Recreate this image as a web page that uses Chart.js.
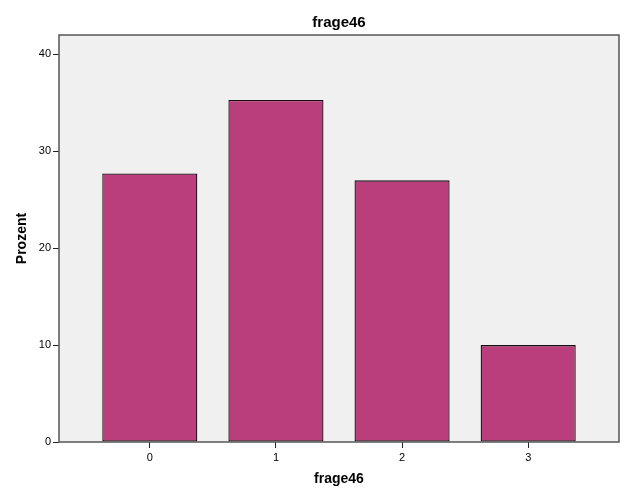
<!DOCTYPE html>
<html lang="de">
<head>
  <meta charset="UTF-8" />
  <title>frage46</title>
  <script src="https://cdn.jsdelivr.net/npm/chart.js"></script>
  <style>
    html, body { margin: 0; padding: 0; background: #fff; }
    #wrap { width: 626px; height: 501px; }
  </style>
</head>
<body>
  <div id="wrap"><canvas id="chart"></canvas></div>
  <script>
    // Antwortkategorien und Prozentwerte
    const categories = [0, 1, 2, 3];
    const percents = [27.7, 35.3, 27.0, 10.0];
    const yTicks = [0, 10, 20, 30, 40];

    // grauer Hintergrund + Rahmen des Plotbereichs
    const plotFrame = {
      id: 'plotFrame',
      beforeDatasetsDraw(chart) {
        const { ctx, chartArea: a } = chart;
        ctx.save();
        ctx.fillStyle = '#f0f0f0';
        ctx.fillRect(a.left, a.top, a.right - a.left, a.bottom - a.top);
        ctx.restore();
      },
      afterDatasetsDraw(chart) {
        const { ctx, chartArea: a } = chart;
        ctx.save();
        ctx.strokeStyle = '#555';
        ctx.lineWidth = 1.5;
        ctx.strokeRect(a.left, a.top, a.right - a.left, a.bottom - a.top);
        ctx.restore();
      }
    };

    new Chart(document.getElementById('chart'), {
      type: 'bar',
      data: {
        datasets: [{
          data: categories.map((c, i) => ({ x: c, y: percents[i] })),
          backgroundColor: '#b93e7b',
          borderColor: '#1a0a12',
          borderWidth: 1.3,
          borderSkipped: false,
          barPercentage: 0.754,
          categoryPercentage: 1
        }]
      },
      options: {
        responsive: true,
        maintainAspectRatio: false,
        animation: false,
        layout: { padding: { left: 0, right: 7, top: 0, bottom: 0 } },
        plugins: {
          legend: { display: false },
          tooltip: { enabled: false },
          title: {
            display: true,
            text: 'frage46',
            fullSize: false,
            color: '#000',
            font: { family: 'Liberation Sans, Arial, sans-serif', size: 15, weight: 'bold' },
            padding: { top: 14, bottom: 3 }
          }
        },
        scales: {
          x: {
            type: 'linear',
            min: -0.72,
            max: 3.72,
            offset: false,
            afterBuildTicks: s => { s.ticks = categories.map(v => ({ value: v })); },
            afterFit: s => { s.height = 59; },
            grid: { offset: false, drawOnChartArea: false, drawTicks: true, tickLength: 6, color: '#222', lineWidth: 1 },
            border: { display: false },
            ticks: {
              color: '#000',
              padding: 3,
              font: { family: 'Liberation Sans, Arial, sans-serif', size: 11 }
            },
            title: {
              display: true,
              text: 'frage46',
              color: '#000',
              font: { family: 'Liberation Sans, Arial, sans-serif', size: 14, weight: 'bold' },
              padding: { top: 0, bottom: 13.6 }
            }
          },
          y: {
            min: 0,
            max: 42,
            afterBuildTicks: s => { s.ticks = yTicks.map(v => ({ value: v })); },
            afterFit: s => { s.width = 59; },
            grid: { drawOnChartArea: false, drawTicks: true, tickLength: 6, color: '#222', lineWidth: 1 },
            border: { display: false },
            ticks: {
              color: '#000',
              padding: 2,
              font: { family: 'Liberation Sans, Arial, sans-serif', size: 11 }
            },
            title: {
              display: true,
              text: 'Prozent',
              color: '#000',
              font: { family: 'Liberation Sans, Arial, sans-serif', size: 14, weight: 'bold' },
              padding: { top: 13.6, bottom: 0 }
            }
          }
        }
      },
      plugins: [plotFrame]
    });
  </script>
</body>
</html>
